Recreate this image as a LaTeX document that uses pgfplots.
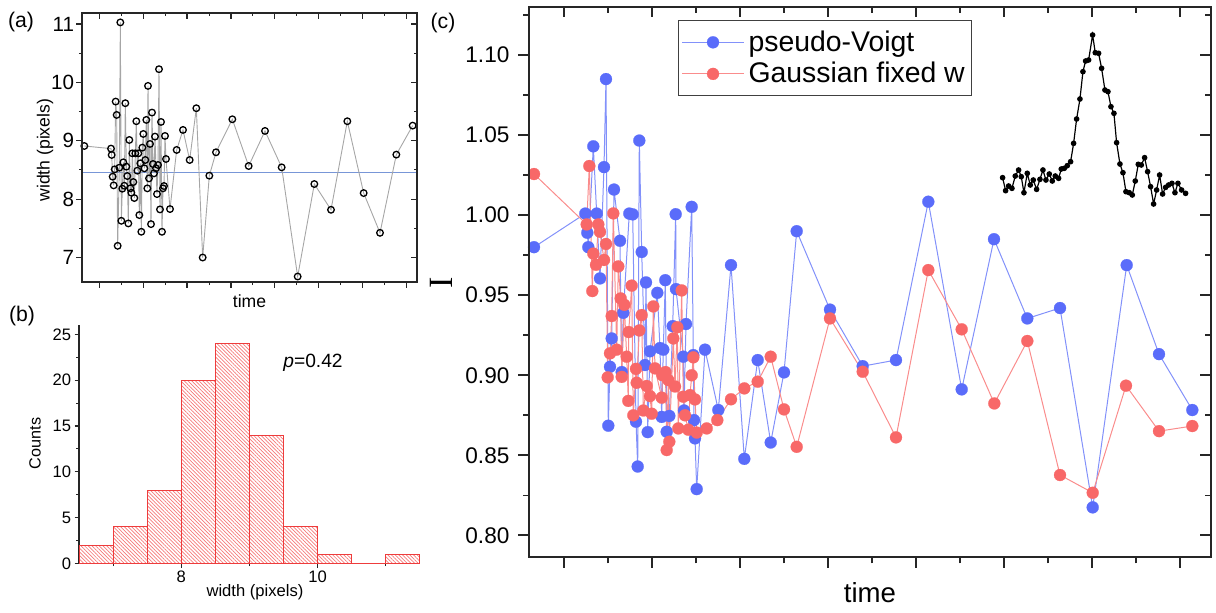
\documentclass[border=0pt]{standalone}
\usepackage{fontspec}
\setmainfont{Liberation Sans}
\newfontfamily\seriffont{Liberation Serif}
\usepackage{pgfplots}
\pgfplotsset{compat=1.18}
\usetikzlibrary{patterns.meta}
\definecolor{pvblue}{RGB}{90,108,250}
\definecolor{pvline}{RGB}{130,145,250}
\definecolor{gred}{RGB}{248,104,104}
\definecolor{gline}{RGB}{250,140,140}
\definecolor{meanblue}{RGB}{120,150,215}
\definecolor{histred}{RGB}{238,60,60}
\definecolor{hatchred}{RGB}{245,120,120}

\pgfplotstableread{
x y
253 8.911
333 8.866
335 8.757
338 8.385
341 8.236
344 8.511
347 9.672
350 9.443
353 7.200
358 8.539
361 11.029
364 7.629
367 8.179
370 8.631
373 8.230
376 9.644
379 8.557
382 8.396
385 7.584
388 9.014
391 8.185
394 8.110
397 8.785
400 8.293
403 8.019
406 8.785
409 9.335
412 8.488
415 8.785
418 7.727
421 8.614
424 7.441
427 8.883
430 9.117
433 8.528
436 8.671
439 9.358
442 8.185
444 9.941
447 8.356
450 8.946
453 7.572
456 9.484
459 8.602
462 8.442
465 9.072
468 8.528
471 8.087
474 8.585
477 10.227
480 7.824
483 9.323
486 7.441
489 8.185
492 8.225
495 9.083
498 8.688
510 7.830
530 8.843
549 9.186
569 8.671
589 9.558
608 7.000
628 8.402
648 8.803
697 9.369
746 8.568
795 9.169
845 8.545
893 6.674
943 8.259
993 7.818
1042 9.335
1091 8.104
1140 7.423
1189 8.763
1238 9.260
}\widthdata

\pgfplotstableread{
x y
534 0.980
585.3 1.001
587.3 0.989
588.3 0.980
593.3 1.043
596.7 1.001
600 0.9605
604 1.030
606 1.085
608.3 0.8685
610 0.9053
611.7 0.923
614 1.016
620 0.984
621.7 0.902
623.3 0.939
629.3 1.001
632.7 1.0005
636 0.871
637.7 0.843
639.3 1.0466
641.7 0.977
645 0.9064
646 0.958
647.7 0.8645
650 0.915
657.3 0.9515
660 0.917
661.7 0.874
663.3 0.916
665.3 0.9594
666.7 0.8647
669.3 0.8746
672.7 0.9307
675.7 1.0006
676 0.9538
683.3 0.9116
684 0.878
686 0.932
691.7 1.0052
693.3 0.9126
694 0.872
695 0.8606
696.7 0.8289
705 0.916
718.3 0.8783
731 0.9688
744.3 0.8478
757.7 0.9095
770.7 0.858
784 0.9018
796.7 0.990
830 0.941
862.7 0.9057
896 0.9095
928.3 1.0084
961.7 0.8912
994 0.985
1027.3 0.9355
1060 0.942
1092.7 0.8175
1126.7 0.9688
1159 0.9132
1192.3 0.8783
}\pvdata

\pgfplotstableread{
x y
534 1.0257
586.7 0.9942
589.3 1.0307
592.3 0.9526
593.3 0.976
596 0.969
598.3 0.9942
600 0.9896
604 0.972
606 0.982
607.7 0.8987
610 0.9137
611.7 0.937
613.3 1.0011
616.7 0.916
618.3 0.968
620.7 0.948
621.7 0.899
624.3 0.944
626.7 0.9116
628.3 0.884
628.7 0.927
631.7 0.956
633.3 0.875
636 0.904
636.7 0.8953
639.3 0.928
641.7 0.9376
643.3 0.878
646.7 0.8933
650 0.887
651.7 0.876
653.3 0.943
655 0.9043
661.7 0.886
662.5 0.900
665.5 0.902
666.7 0.8533
668.3 0.897
669.3 0.8585
673.3 0.923
675 0.893
677.3 0.930
678.3 0.8668
681.7 0.953
683.3 0.8866
685 0.875
688.3 0.866
690 0.8876
691.7 0.900
693.3 0.9112
695 0.8849
696.7 0.8642
706.7 0.8668
717.3 0.872
731 0.885
744.3 0.8918
757.7 0.896
770.7 0.9116
784 0.8787
796.7 0.8553
830 0.9355
862.7 0.9022
896 0.8612
928.3 0.9657
961.7 0.9287
994.3 0.8824
1027.3 0.9214
1060 0.8377
1092.7 0.8266
1126 0.8935
1159 0.8651
1192.3 0.8683
}\gaussdata

\begin{document}
\begin{tikzpicture}
\useasboundingbox (0,0) rectangle (608pt,-306pt);

% ---------------- panel (a)
\pgfplotsset{
  panelA/.style={
    at={(41pt,-141pt)}, anchor=south west, scale only axis,
    width=167.5pt, height=134.5pt,
    xmin=246, xmax=1251, ymin=6.58, ymax=11.19,
    xtick={298,429.6,561.2,692.8,824.4,956,1087.6,1219.2},
    minor xtick={363.8,495.4,627,758.6,890.2,1021.8,1153.4},
    ytick={7,8,9,10,11},
    minor ytick={7.5,8.5,9.5,10.5},
    axis line style={line width=0.65pt, black!85},
    major tick style={line width=0.6pt, black!85},
    minor tick style={line width=0.5pt, black!85},
    major tick length=2.8pt, minor tick length=1.6pt,
  }
}
\begin{axis}[panelA,
  xticklabels={}, yticklabels={7,8,9,10,11},
  xtick pos=left, ytick pos=left, tick align=outside,
  yticklabel style={font=\fontsize{10.3}{12}\selectfont, inner sep=1pt},
  xlabel={time}, ylabel={width (pixels)},
  xlabel style={at={(axis description cs:0.5,0)}, anchor=center, yshift=-9.5pt, font=\fontsize{8.8}{10}\selectfont},
  ylabel style={at={(axis description cs:0,0.49)}, anchor=center, yshift=18.5pt, font=\fontsize{8.8}{10}\selectfont},
]
\addplot[meanblue, line width=0.6pt] coordinates {(246,8.46) (1251,8.46)};
\addplot[gray!70, line width=0.45pt, mark=o, mark size=1.65pt,
  mark options={solid, draw=black, fill=white, line width=0.65pt}] table[x=x,y=y] {\widthdata};
\end{axis}
\begin{axis}[panelA, xticklabels={}, yticklabels={},
  xtick pos=right, ytick pos=right, tick align=inside]
\end{axis}

% ---------------- panel (b)
\begin{axis}[at={(39.5pt,-281.65pt)}, anchor=south west, scale only axis,
  width=170.5pt, height=119pt,
  xmin=6.5, xmax=11.5, ymin=0, ymax=26,
  axis x line*=bottom, axis y line*=left, tick align=outside,
  xtick={8,10}, xticklabels={8,10}, minor xtick={7,9,11},
  ytick={0,5,10,15,20,25}, yticklabels={0,5,10,15,20,25},
  minor ytick={2.5,7.5,12.5,17.5,22.5},
  axis line style={line width=0.65pt, black!85},
  major tick style={line width=0.6pt, black!85},
  minor tick style={line width=0.5pt, black!85},
  major tick length=2.2pt, minor tick length=1.4pt,
  ticklabel style={font=\fontsize{8.3}{10}\selectfont, inner sep=1.5pt},
  xlabel={width (pixels)}, ylabel={Counts},
  xlabel style={at={(axis description cs:0.516,0)}, anchor=center, yshift=-14.3pt, font=\fontsize{8.3}{10}\selectfont},
  ylabel style={at={(axis description cs:0,0.504)}, anchor=center, yshift=22pt, font=\fontsize{8.1}{10}\selectfont},
]
\addplot[ybar interval, draw=histred, line width=0.5pt,
  pattern={Lines[angle=-45, distance=1.3pt, line width=0.35pt]}, pattern color=hatchred]
  coordinates {(6.5,2) (7,4) (7.5,8) (8,20) (8.5,24) (9,14) (9.5,4) (10,1) (10.5,0) (11,1) (11.5,0)};
\end{axis}

% ---------------- panel (c)
\pgfplotsset{
  panelC/.style={
    at={(264.5pt,-278.65pt)}, anchor=south west, scale only axis,
    width=341pt, height=275.3pt,
    xmin=529, xmax=1211, ymin=0.7863, ymax=1.1302,
    xtick={564,652,740,828,916,1004,1092,1180},
    minor xtick={608,696,784,872,960,1048,1136},
    ytick={0.80,0.85,0.90,0.95,1.00,1.05,1.10},
    minor ytick={0.825,0.875,0.925,0.975,1.025,1.075,1.125},
    axis line style={line width=1pt, black!85},
    major tick style={line width=0.9pt, black!85},
    minor tick style={line width=0.8pt, black!85},
    major tick length=5.3pt, minor tick length=3pt,
  }
}
\begin{axis}[panelC,
  xticklabels={}, yticklabels={0.80,0.85,0.90,0.95,1.00,1.05,1.10},
  xtick pos=left, ytick pos=left, tick align=outside,
  yticklabel style={font=\fontsize{11.3}{13}\selectfont, inner sep=1.5pt, xshift=-2.8pt},
  xlabel={time}, ylabel={\seriffont I},
  xlabel style={at={(axis description cs:0.5,0)}, anchor=center, yshift=-17.8pt, font=\fontsize{13.8}{16}\selectfont},
  ylabel style={at={(axis description cs:0,0.498)}, anchor=center, yshift=44pt, font=\fontsize{17}{20}\selectfont},
  legend image code/.code={\draw[mark repeat=2, mark phase=2, #1] plot coordinates {(0pt,0pt) (15.5pt,0pt) (31pt,0pt)};},
  legend style={at={(0.2185,0.9758)}, anchor=north west, font=\fontsize{14.2}{16.5}\selectfont,
    draw=black!75, line width=0.5pt, inner xsep=1.5pt, inner ysep=3pt, cells={anchor=west}},
]
\addplot[pvline, line width=0.5pt, mark=*, mark size=3pt,
  mark options={solid, draw=pvblue, fill=pvblue, line width=0.1pt}] table[x=x,y=y] {\pvdata};
\addlegendentry{pseudo-Voigt}
\addplot[gline, line width=0.5pt, mark=*, mark size=3pt,
  mark options={solid, draw=gred, fill=gred, line width=0.1pt}] table[x=x,y=y] {\gaussdata};
\addlegendentry{Gaussian fixed w}
\end{axis}
\begin{axis}[panelC, xticklabels={}, yticklabels={},
  xtick pos=right, ytick pos=right, tick align=inside]
\end{axis}

% inset spectrum
\begin{axis}[at={(501.3pt,-102pt)}, anchor=south west, scale only axis,
  width=91.67pt, height=84.5pt, xmin=548, xmax=1098, ymin=-612, ymax=-105,
  hide axis, clip=false]
\addplot[black, line width=0.6pt, mark=*, mark size=1.1pt, mark options={solid}] coordinates {
(548,-533) (557,-572) (566,-558) (576,-565) (586,-528) (596,-510) (604,-530) (612,-578) (622,-520) (631,-555)
(640,-540) (650,-568) (660,-538) (669,-510) (678,-540) (688,-522) (697,-543) (706,-528) (716,-535) (724,-507)
(733,-505) (742,-497) (752,-485) (761,-430) (770,-357) (780,-297) (789,-215) (797,-183) (806,-180) (818,-105)
(826,-158) (836,-160) (845,-205) (855,-270) (864,-275) (873,-320) (882,-340) (890,-428) (900,-492) (909,-518)
(918,-575) (928,-578) (937,-585) (946,-543) (955,-493) (964,-495) (974,-473) (983,-515) (992,-560) (1001,-612)
(1010,-570) (1019,-525) (1028,-582) (1037,-562) (1046,-555) (1056,-550) (1065,-578) (1074,-550) (1085,-570) (1097,-580)
};
\end{axis}

% panel labels and annotation
\node[font=\fontsize{10.6}{12}\selectfont] at (10.5pt,-11pt) {(a)};
\node[font=\fontsize{10.6}{12}\selectfont] at (11pt,-158pt) {(b)};
\node[font=\fontsize{10.6}{12}\selectfont] at (221.5pt,-11.5pt) {(c)};
\node[font=\fontsize{9.6}{11}\selectfont] at (156.5pt,-181.5pt) {\textit{p}=0.42};
\end{tikzpicture}
\end{document}
